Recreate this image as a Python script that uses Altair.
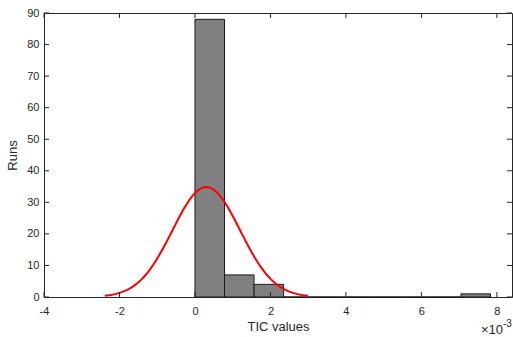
import altair as alt
import pandas as pd

# Histogram (x in units of 1e-3)
bin_left = [0.0, 0.783, 1.566, 2.349, 3.132, 3.915, 4.698, 5.481, 6.264, 7.047]
bin_right = [0.783, 1.566, 2.349, 3.132, 3.915, 4.698, 5.481, 6.264, 7.047, 7.83]
counts = [88, 7, 4, 0, 0, 0, 0, 0, 0, 1]

# Normal fit parameters (histfit)
fit_mu = 0.30
fit_sigma = 0.897
fit_n = 100
fit_binwidth = 0.783

x_ticks = [-4, -2, 0, 2, 4, 6, 8]
y_ticks = [0, 10, 20, 30, 40, 50, 60, 70, 80, 90]

W, H = 468, 284
AX = "#262626"
FONT = "Liberation Sans"

bars_df = pd.DataFrame({"x0": bin_left, "x1": bin_right, "n": counts})

xscale = alt.Scale(domain=[-4, 8.4], nice=False, zero=False)
yscale = alt.Scale(domain=[0, 90], nice=False)

common = dict(tickSize=0, grid=False, domainColor=AX, labelColor=AX, titleColor=AX,
              labelFont=FONT, titleFont=FONT, labelFontSize=11, titleFontSize=13,
              titleFontWeight="normal", labelOverlap=False, labelFlush=False,
              labelExpr="toString(datum.value)")
xaxis = alt.Axis(values=x_ticks, labelPadding=8, titlePadding=4, title="TIC values", **common)
yaxis = alt.Axis(values=y_ticks, labelPadding=5, titlePadding=7, title="Runs", **common)

bars = alt.Chart(bars_df).mark_rect(color="#808080", stroke="#1a1a1a", strokeWidth=1).encode(
    x=alt.X("x0:Q", scale=xscale, axis=xaxis),
    x2="x1:Q",
    y=alt.Y("n:Q", scale=yscale, axis=yaxis),
    y2=alt.datum(0),
)

curve = alt.Chart(alt.sequence(fit_mu - 3 * fit_sigma, fit_mu + 3 * fit_sigma + 0.001,
                               6 * fit_sigma / 100, as_="t")).transform_calculate(
    y=f"{fit_n * fit_binwidth} / ({fit_sigma} * sqrt(2*PI)) * exp(-0.5*pow((datum.t - {fit_mu})/{fit_sigma}, 2))"
).mark_line(color="#ff0000", strokeWidth=2).encode(
    x=alt.X("t:Q", scale=xscale, axis=xaxis),
    y=alt.Y("y:Q", scale=yscale, axis=yaxis),
)

xt_df = pd.DataFrame({"v": x_ticks})
yt_df = pd.DataFrame({"v": y_ticks})

xt_bottom = alt.Chart(xt_df).mark_rule(color=AX, strokeWidth=1).encode(
    x=alt.X("v:Q", scale=xscale, axis=xaxis), y=alt.value(H), y2=alt.value(H - 5))
xt_top = alt.Chart(xt_df).mark_rule(color=AX, strokeWidth=1).encode(
    x=alt.X("v:Q", scale=xscale, axis=xaxis), y=alt.value(0), y2=alt.value(5))
yt_left = alt.Chart(yt_df).mark_rule(color=AX, strokeWidth=1).encode(
    y=alt.Y("v:Q", scale=yscale, axis=yaxis), x=alt.value(0), x2=alt.value(5))
yt_right = alt.Chart(yt_df).mark_rule(color=AX, strokeWidth=1).encode(
    y=alt.Y("v:Q", scale=yscale, axis=yaxis), x=alt.value(W), x2=alt.value(W - 5))

exp_base = alt.Chart(pd.DataFrame({"s": ["\u00d710"]})).mark_text(
    align="left", baseline="alphabetic", font=FONT, fontSize=13, color=AX
).encode(text="s:N", x=alt.value(437), y=alt.value(321))
exp_sup = alt.Chart(pd.DataFrame({"s": ["-3"]})).mark_text(
    align="left", baseline="alphabetic", font=FONT, fontSize=10, color=AX
).encode(text="s:N", x=alt.value(459), y=alt.value(314))

chart = alt.layer(bars, curve, xt_bottom, xt_top, yt_left, yt_right, exp_base, exp_sup).properties(
    width=W, height=H,
    autosize=alt.AutoSizeParams(type="none"),
    padding={"left": 44, "top": 13, "right": 1, "bottom": 40},
).configure_view(stroke=AX, strokeWidth=1).configure_axis(domainWidth=1)

chart.save("out.html", embed_options={"renderer": "svg", "actions": False})
